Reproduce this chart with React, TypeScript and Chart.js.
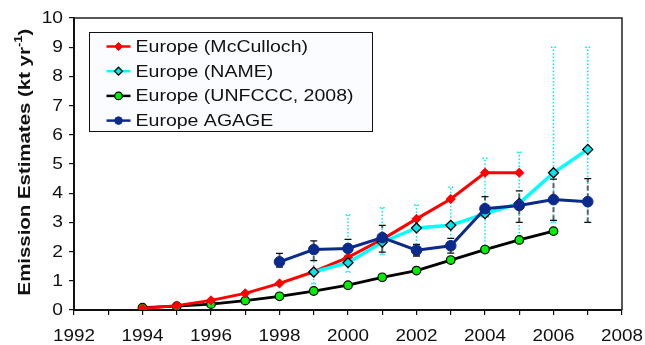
import React, { useEffect, useRef } from "react";
import { Chart, registerables } from "chart.js";

Chart.register(...registerables);

// Emission estimates for Europe, kt per year
const mccullochYears = [1994, 1995, 1996, 1997, 1998, 1999, 2000, 2001, 2002, 2003, 2004, 2005];
const mccullochValues = [0.05, 0.15, 0.33, 0.57, 0.91, 1.31, 1.8, 2.42, 3.12, 3.8, 4.7, 4.7];

const nameYears = [1999, 2000, 2001, 2002, 2003, 2004, 2005, 2006, 2007];
const nameValues = [1.3, 1.62, 2.32, 2.81, 2.9, 3.3, 3.65, 4.7, 5.5];
const nameLow = [0.9, 1.3, 1.9, 2.0, 2.2, 2.1, 2.5, 3.0, 3.0];
const nameHigh = [1.7, 3.25, 3.5, 3.6, 4.2, 5.2, 5.4, 9.0, 9.0];

const unfcccYears = [1994, 1995, 1996, 1997, 1998, 1999, 2000, 2001, 2002, 2003, 2004, 2005, 2006];
const unfcccValues = [0.08, 0.13, 0.2, 0.32, 0.47, 0.65, 0.85, 1.12, 1.35, 1.71, 2.07, 2.4, 2.7];

const agageYears = [1998, 1999, 2000, 2001, 2002, 2003, 2004, 2005, 2006, 2007];
const agageValues = [1.65, 2.07, 2.11, 2.48, 2.05, 2.2, 3.47, 3.58, 3.78, 3.71];
const agageLow = [1.47, 1.69, 1.85, 1.98, 1.85, 1.95, 3.2, 3.0, 3.07, 3.0];
const agageHigh = [1.94, 2.37, 2.42, 2.9, 2.25, 2.45, 3.88, 4.08, 4.48, 4.5];

const seriesLabels = [
  "Europe (McCulloch)",
  "Europe (NAME)",
  "Europe (UNFCCC, 2008)",
  "Europe AGAGE",
];

const xLabelYears = [1992, 1994, 1996, 1998, 2000, 2002, 2004, 2006, 2008];
const yLabelValues = [0, 1, 2, 3, 4, 5, 6, 7, 8, 9, 10];
const yTitle = "Emission Estimates (kt yr";
const yTitleSup = "-1";

const FONT = "'Liberation Sans', Arial, sans-serif";
const NAVY = "#0c2a8c";

const toPoints = (xs: number[], ys: number[]) => xs.map((x, i) => ({ x, y: ys[i] }));

function wideText(
  ctx: CanvasRenderingContext2D,
  text: string,
  x: number,
  y: number,
  align: CanvasTextAlign,
  sx: number
) {
  ctx.save();
  ctx.translate(x, y);
  ctx.scale(sx, 1);
  ctx.textAlign = align;
  ctx.fillText(text, 0, 0);
  ctx.restore();
}

function marker(ctx: CanvasRenderingContext2D, ds: any, x: number, y: number, r: number) {
  ctx.save();
  ctx.beginPath();
  if (ds.pointStyle === "rectRot") {
    ctx.moveTo(x, y - r);
    ctx.lineTo(x + r, y);
    ctx.lineTo(x, y + r);
    ctx.lineTo(x - r, y);
    ctx.closePath();
  } else {
    ctx.arc(x, y, r, 0, Math.PI * 2);
  }
  ctx.fillStyle = ds.pointBackgroundColor;
  ctx.fill();
  ctx.lineWidth = ds.pointBorderWidth;
  ctx.strokeStyle = ds.pointBorderColor;
  ctx.stroke();
  ctx.restore();
}

const errorBarPlugin = {
  id: "errorBars",
  beforeDatasetsDraw(chart: any) {
    const { ctx, scales } = chart;
    const xs = scales.x;
    const ys = scales.y;
    ctx.save();
    // NAME uncertainty: cyan dotted
    ctx.strokeStyle = "#00f0f0";
    ctx.lineWidth = 1.5;
    ctx.setLineDash([1.5, 2]);
    nameYears.forEach((yr, i) => {
      const px = xs.getPixelForValue(yr);
      const lo = ys.getPixelForValue(nameLow[i]);
      const hi = ys.getPixelForValue(nameHigh[i]);
      ctx.beginPath();
      ctx.moveTo(px, lo);
      ctx.lineTo(px, hi);
      ctx.moveTo(px - 2.5, hi);
      ctx.lineTo(px + 2.5, hi);
      ctx.moveTo(px - 2.5, lo);
      ctx.lineTo(px + 2.5, lo);
      ctx.stroke();
    });
    // AGAGE uncertainty: grey dashed with black caps
    agageYears.forEach((yr, i) => {
      const px = xs.getPixelForValue(yr);
      const lo = ys.getPixelForValue(agageLow[i]);
      const hi = ys.getPixelForValue(agageHigh[i]);
      ctx.setLineDash([5, 3]);
      ctx.strokeStyle = "#5a6266";
      ctx.lineWidth = 2;
      ctx.beginPath();
      ctx.moveTo(px, lo);
      ctx.lineTo(px, hi);
      ctx.stroke();
      ctx.setLineDash([]);
      ctx.strokeStyle = "#111";
      ctx.lineWidth = 1.3;
      ctx.beginPath();
      ctx.moveTo(px - 3.5, hi);
      ctx.lineTo(px + 3.5, hi);
      ctx.moveTo(px - 3.5, lo);
      ctx.lineTo(px + 3.5, lo);
      ctx.stroke();
    });
    ctx.restore();
  },
};

const decorPlugin = {
  id: "decor",
  afterDraw(chart: any) {
    const { ctx, scales, chartArea: ca } = chart;
    const xs = scales.x;
    const ys = scales.y;
    ctx.save();

    // plot frame
    ctx.strokeStyle = "#222";
    ctx.lineWidth = 1.5;
    ctx.beginPath();
    ctx.moveTo(ca.left, ca.top);
    ctx.lineTo(ca.right, ca.top);
    ctx.lineTo(ca.right, ca.bottom);
    ctx.stroke();

    // tick labels
    ctx.fillStyle = "#111";
    ctx.font = `16px ${FONT}`;
    ctx.textBaseline = "middle";
    yLabelValues.forEach((v) => {
      wideText(ctx, String(v), ca.left - 11, ys.getPixelForValue(v) + 0.5, "right", 1.2);
    });
    xLabelYears.forEach((yr) => {
      wideText(ctx, String(yr), xs.getPixelForValue(yr), ca.bottom + 27, "center", 1.18);
    });

    // y-axis title
    ctx.font = `bold 17px ${FONT}`;
    const mainW = ctx.measureText(yTitle).width;
    ctx.font = `bold 11px ${FONT}`;
    const supW = ctx.measureText(yTitleSup).width;
    ctx.font = `bold 17px ${FONT}`;
    const closeW = ctx.measureText(")").width;
    const total = mainW + supW + closeW;
    ctx.save();
    ctx.translate(25, (ca.top + ca.bottom) / 2 - 2);
    ctx.rotate(-Math.PI / 2);
    ctx.scale(1.2, 1);
    ctx.textAlign = "left";
    ctx.textBaseline = "middle";
    let cx = -total / 2;
    ctx.fillText(yTitle, cx, 0);
    cx += mainW;
    ctx.font = `bold 11px ${FONT}`;
    ctx.fillText(yTitleSup, cx, -6);
    cx += supW;
    ctx.font = `bold 17px ${FONT}`;
    ctx.fillText(")", cx, 0);
    ctx.restore();

    // legend box
    const bx = ca.left + 15.5;
    const by = ca.top + 14.5;
    const bw = 283;
    const bh = 99;
    ctx.fillStyle = "#fbfcff";
    ctx.fillRect(bx, by, bw, bh);
    ctx.strokeStyle = "#111";
    ctx.lineWidth = 1;
    ctx.strokeRect(bx, by, bw, bh);
    ctx.font = `16px ${FONT}`;
    ctx.textBaseline = "middle";
    const order = [0, 1, 2, 3];
    order.forEach((di, row) => {
      const ds = chart.data.datasets[di];
      const ry = by + 14 + row * 24.7;
      ctx.strokeStyle = ds.borderColor;
      ctx.lineWidth = 2.5;
      ctx.beginPath();
      ctx.moveTo(bx + 17, ry);
      ctx.lineTo(bx + 41, ry);
      ctx.stroke();
      marker(ctx, ds, bx + 29, ry, ds.pointStyle === "rectRot" ? 4 : 3.8);
      ctx.fillStyle = "#111";
      wideText(ctx, ds.label, bx + 46, ry + 1, "left", 1.22);
    });
    ctx.restore();
  },
};

export default function App() {
  const canvasRef = useRef<HTMLCanvasElement | null>(null);

  useEffect(() => {
    if (!canvasRef.current) return;
    const chart = new Chart(canvasRef.current, {
      type: "line",
      data: {
        datasets: [
          {
            label: seriesLabels[0],
            data: toPoints(mccullochYears, mccullochValues),
            borderColor: "#ff0000",
            borderWidth: 3,
            pointStyle: "rectRot",
            pointRadius: 4.6,
            pointBackgroundColor: "#ff0000",
            pointBorderColor: "#ff0000",
            pointBorderWidth: 1,
            order: 2,
          },
          {
            label: seriesLabels[1],
            data: toPoints(nameYears, nameValues),
            borderColor: "#00ffff",
            borderWidth: 3.5,
            pointStyle: "rectRot",
            pointRadius: 5,
            pointBackgroundColor: "#00e5ee",
            pointBorderColor: "#000000",
            pointBorderWidth: 1.3,
            order: 1,
          },
          {
            label: seriesLabels[2],
            data: toPoints(unfcccYears, unfcccValues),
            borderColor: "#000000",
            borderWidth: 2.8,
            pointStyle: "circle",
            pointRadius: 4.3,
            pointBackgroundColor: "#00ee00",
            pointBorderColor: "#000000",
            pointBorderWidth: 1.2,
            order: 3,
          },
          {
            label: seriesLabels[3],
            data: toPoints(agageYears, agageValues),
            borderColor: NAVY,
            borderWidth: 3,
            pointStyle: "circle",
            pointRadius: 5.3,
            pointBackgroundColor: NAVY,
            pointBorderColor: NAVY,
            pointBorderWidth: 1,
            order: 0,
          },
        ],
      },
      options: {
        responsive: false,
        animation: false,
        layout: { padding: { top: 18, right: 23, left: 0, bottom: 0 } },
        plugins: {
          legend: { display: false },
          tooltip: { enabled: false },
          title: { display: false },
        },
        elements: { line: { tension: 0 } },
        scales: {
          x: {
            type: "linear",
            min: 1992,
            max: 2008,
            ticks: { stepSize: 1, display: false },
            grid: {
              drawOnChartArea: false,
              drawTicks: true,
              tickLength: 5,
              color: "#111",
              lineWidth: 1.2,
            },
            border: { display: true, color: "#111", width: 2 },
            afterFit: (s: any) => {
              s.height = 35;
            },
          },
          y: {
            type: "linear",
            min: 0,
            max: 10,
            ticks: { stepSize: 1, display: false },
            grid: {
              drawOnChartArea: false,
              drawTicks: true,
              tickLength: 5,
              color: "#111",
              lineWidth: 1.2,
            },
            border: { display: true, color: "#111", width: 2 },
            afterFit: (s: any) => {
              s.width = 74;
            },
          },
        },
      },
      plugins: [errorBarPlugin, decorPlugin],
    });
    return () => chart.destroy();
  }, []);

  return (
    <div
      style={{
        position: "fixed",
        left: 0,
        top: 0,
        width: 645,
        height: 345,
        background: "#fff",
      }}
    >
      <canvas ref={canvasRef} width={645} height={345} />
    </div>
  );
}
